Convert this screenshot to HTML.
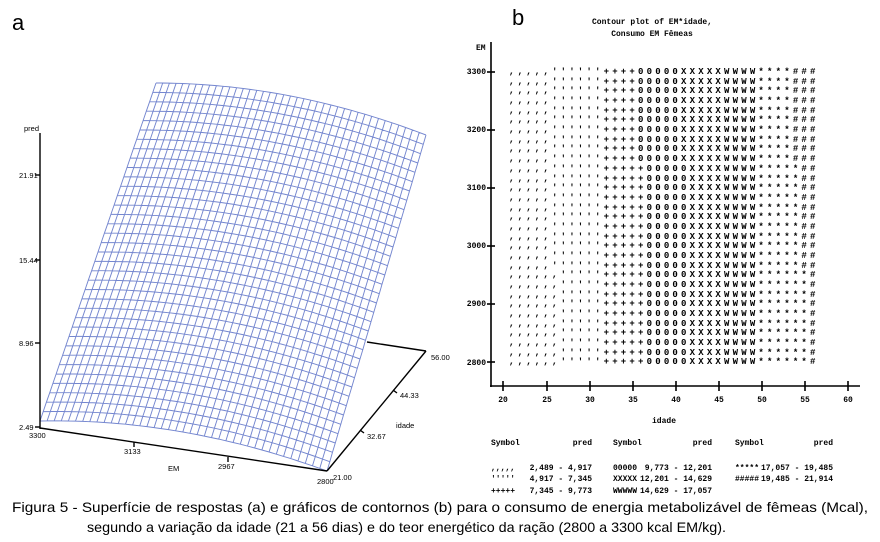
<!DOCTYPE html>
<html><head><meta charset="utf-8"><style>
body{margin:0;background:#fff;width:880px;height:542px;overflow:hidden}
svg{display:block}
.m{font-family:"Liberation Mono",monospace;font-weight:bold;font-size:8px;fill:#000}
.s{font-family:"Liberation Sans",sans-serif;fill:#000}
.c{font-family:"Liberation Mono",monospace;font-weight:bold;font-size:9px;letter-spacing:3.2px;fill:#000}
</style></head><body>
<svg id="sv" width="880" height="542" viewBox="0 0 880 542" xmlns="http://www.w3.org/2000/svg">
<text x="12" y="30" class="s" font-size="22">a</text>
<text x="512" y="25" class="s" font-size="22">b</text>
<g id="grid" stroke="#7486cf" stroke-width="0.95" fill="none"></g>
<g stroke="#000" stroke-width="1.4" fill="none">
<line x1="40" y1="133" x2="40" y2="429"/>
<line x1="40" y1="428" x2="327" y2="471"/>
<line x1="327" y1="471" x2="426" y2="351"/>
<line x1="367" y1="342" x2="426" y2="351"/>
<line x1="35" y1="175" x2="40" y2="175"/><line x1="35" y1="260" x2="40" y2="260"/><line x1="35" y1="343" x2="40" y2="343"/><line x1="35" y1="427" x2="40" y2="427"/>
<line x1="134" y1="442" x2="134" y2="447"/><line x1="228" y1="457" x2="228" y2="462"/>
<line x1="393" y1="390" x2="397" y2="393"/><line x1="360" y1="430" x2="364" y2="433"/>
</g>
<g class="s" font-size="7.5">
<text x="24" y="131">pred</text>
<text x="19" y="178">21.91</text><text x="19" y="263">15.44</text><text x="19" y="346">8.96</text><text x="19" y="430">2.49</text>
<text x="29" y="438">3300</text><text x="124" y="454">3133</text><text x="218" y="469">2967</text><text x="317" y="484">2800</text>
<text x="168" y="471">EM</text><text x="333" y="480">21.00</text><text x="367" y="439">32.67</text><text x="400" y="398">44.33</text><text x="431" y="360">56.00</text>
<text x="396" y="428">idade</text>
</g>
<g class="m">
<text x="652" y="24" text-anchor="middle">Contour plot of EM*idade,</text>
<text x="652" y="36" text-anchor="middle">Consumo EM Fêmeas</text>
<text x="476" y="50">EM</text>
<text x="486" y="74" text-anchor="end">3300</text><text x="486" y="132" text-anchor="end">3200</text><text x="486" y="190" text-anchor="end">3100</text><text x="486" y="248" text-anchor="end">3000</text><text x="486" y="306" text-anchor="end">2900</text><text x="486" y="365" text-anchor="end">2800</text>
<text x="503" y="402" text-anchor="middle">20</text><text x="547" y="402" text-anchor="middle">25</text><text x="590" y="402" text-anchor="middle">30</text><text x="633" y="402" text-anchor="middle">35</text><text x="676" y="402" text-anchor="middle">40</text><text x="719" y="402" text-anchor="middle">45</text><text x="762" y="402" text-anchor="middle">50</text><text x="805" y="402" text-anchor="middle">55</text><text x="848" y="402" text-anchor="middle">60</text>
<text x="664" y="423" text-anchor="middle">idade</text>
<text x="491" y="445">Symbol</text><text x="592" y="445" text-anchor="end">pred</text>
<text x="613" y="445">Symbol</text><text x="712" y="445" text-anchor="end">pred</text>
<text x="735" y="445">Symbol</text><text x="833" y="445" text-anchor="end">pred</text>
<text x="491" y="470">,,,,,</text><text x="592" y="470" text-anchor="end">2,489 -  4,917</text>
<text x="491" y="481">'''''</text><text x="592" y="481" text-anchor="end">4,917 -  7,345</text>
<text x="491" y="493">+++++</text><text x="592" y="493" text-anchor="end">7,345 -  9,773</text>
<text x="613" y="470">00000</text><text x="712" y="470" text-anchor="end">9,773 - 12,201</text>
<text x="613" y="481">XXXXX</text><text x="712" y="481" text-anchor="end">12,201 - 14,629</text>
<text x="613" y="493">WWWWW</text><text x="712" y="493" text-anchor="end">14,629 - 17,057</text>
<text x="735" y="470">*****</text><text x="833" y="470" text-anchor="end">17,057 - 19,485</text>
<text x="735" y="481">#####</text><text x="833" y="481" text-anchor="end">19,485 - 21,914</text>
</g>
<g stroke="#000" stroke-width="1.6">
<line x1="491" y1="42" x2="491" y2="387"/>
<line x1="490" y1="386" x2="860" y2="386"/>
<line x1="487" y1="72" x2="495" y2="72"/><line x1="487" y1="130" x2="495" y2="130"/><line x1="487" y1="188" x2="495" y2="188"/><line x1="487" y1="246" x2="495" y2="246"/><line x1="487" y1="304" x2="495" y2="304"/><line x1="487" y1="362" x2="495" y2="362"/>
<line x1="503" y1="381" x2="503" y2="391"/><line x1="547" y1="381" x2="547" y2="391"/><line x1="590" y1="381" x2="590" y2="391"/><line x1="633" y1="381" x2="633" y2="391"/><line x1="676" y1="381" x2="676" y2="391"/><line x1="719" y1="381" x2="719" y2="391"/><line x1="762" y1="381" x2="762" y2="391"/><line x1="805" y1="381" x2="805" y2="391"/><line x1="848" y1="381" x2="848" y2="391"/>
</g>
<g class="c" xml:space="preserve">
<text x="509" y="74">,,,,,''''''++++00000XXXXXWWWW****###</text>
<text x="509" y="84">,,,,,''''''++++00000XXXXXWWWW****###</text>
<text x="509" y="93">,,,,,''''''++++00000XXXXXWWWW****###</text>
<text x="509" y="103">,,,,,''''''++++00000XXXXXWWWW****###</text>
<text x="509" y="113">,,,,,''''''++++00000XXXXXWWWW****###</text>
<text x="509" y="122">,,,,,''''''++++00000XXXXXWWWW****###</text>
<text x="509" y="132">,,,,,''''''++++00000XXXXXWWWW****###</text>
<text x="509" y="142">,,,,,''''''++++00000XXXXXWWWW****###</text>
<text x="509" y="151">,,,,,''''''++++00000XXXXXWWWW****###</text>
<text x="509" y="161">,,,,,''''''++++00000XXXXXWWWW****###</text>
<text x="509" y="171">,,,,,''''''+++++00000XXXXWWWW*****##</text>
<text x="509" y="181">,,,,,''''''+++++00000XXXXWWWW*****##</text>
<text x="509" y="190">,,,,,''''''+++++00000XXXXWWWW*****##</text>
<text x="509" y="200">,,,,,''''''+++++00000XXXXWWWW*****##</text>
<text x="509" y="210">,,,,,''''''+++++00000XXXXWWWW*****##</text>
<text x="509" y="219">,,,,,''''''+++++00000XXXXWWWW*****##</text>
<text x="509" y="229">,,,,,''''''+++++00000XXXXWWWW*****##</text>
<text x="509" y="239">,,,,,''''''+++++00000XXXXWWWW*****##</text>
<text x="509" y="248">,,,,,''''''+++++00000XXXXWWWW*****##</text>
<text x="509" y="258">,,,,,''''''+++++00000XXXXWWWW*****##</text>
<text x="509" y="268">,,,,,''''''+++++00000XXXXWWWW*****##</text>
<text x="509" y="277">,,,,,,'''''+++++00000XXXXWWWW******#</text>
<text x="509" y="287">,,,,,,'''''+++++00000XXXXWWWW******#</text>
<text x="509" y="297">,,,,,,'''''+++++00000XXXXWWWW******#</text>
<text x="509" y="306">,,,,,,'''''+++++00000XXXXWWWW******#</text>
<text x="509" y="316">,,,,,,'''''+++++00000XXXXWWWW******#</text>
<text x="509" y="326">,,,,,,'''''+++++00000XXXXWWWW******#</text>
<text x="509" y="335">,,,,,,'''''+++++00000XXXXWWWW******#</text>
<text x="509" y="345">,,,,,,'''''+++++00000XXXXWWWW******#</text>
<text x="509" y="355">,,,,,,'''''+++++00000XXXXWWWW******#</text>
<text x="509" y="364">,,,,,,'''''+++++00000XXXXWWWW******#</text>
</g>
<text x="12" y="512" class="s" font-size="14" textLength="856" lengthAdjust="spacingAndGlyphs">Figura 5 - Superfície de respostas (a) e gráficos de contornos (b) para o consumo de energia metabolizável de fêmeas (Mcal),</text>
<text x="87" y="532" class="s" font-size="14" textLength="639" lengthAdjust="spacingAndGlyphs">segundo a variação da idade (21 a 56 dias) e do teor energético da ração (2800 a 3300 kcal EM/kg).</text>
</svg>
<script>
(function(){
var g=document.getElementById('grid'),NS='http://www.w3.org/2000/svg';
function bz(a,c,b,t){return [(1-t)*(1-t)*a[0]+2*(1-t)*t*c[0]+t*t*b[0],(1-t)*(1-t)*a[1]+2*(1-t)*t*c[1]+t*t*b[1]];}
var F0=[40,421],FC=[182,418],F1=[327,471],B0=[156,83],BC=[290,83],B1=[426,135];
function P(u,v){var f=bz(F0,FC,F1,u),b=bz(B0,BC,B1,u);return [f[0]+(b[0]-f[0])*v,f[1]+(b[1]-f[1])*v];}
var NU=40,NV=36,d='';
for(var i=0;i<=NU;i++){for(var j=0;j<=NV;j++){var p=P(i/NU,j/NV);d+=(j?'L':'M')+p[0].toFixed(1)+' '+p[1].toFixed(1);}}
for(var j=0;j<=NV;j++){for(var i=0;i<=NU;i++){var p=P(i/NU,j/NV);d+=(i?'L':'M')+p[0].toFixed(1)+' '+p[1].toFixed(1);}}
var pa=document.createElementNS(NS,'path');pa.setAttribute('d',d);g.appendChild(pa);
})();
</script>
</body></html>
